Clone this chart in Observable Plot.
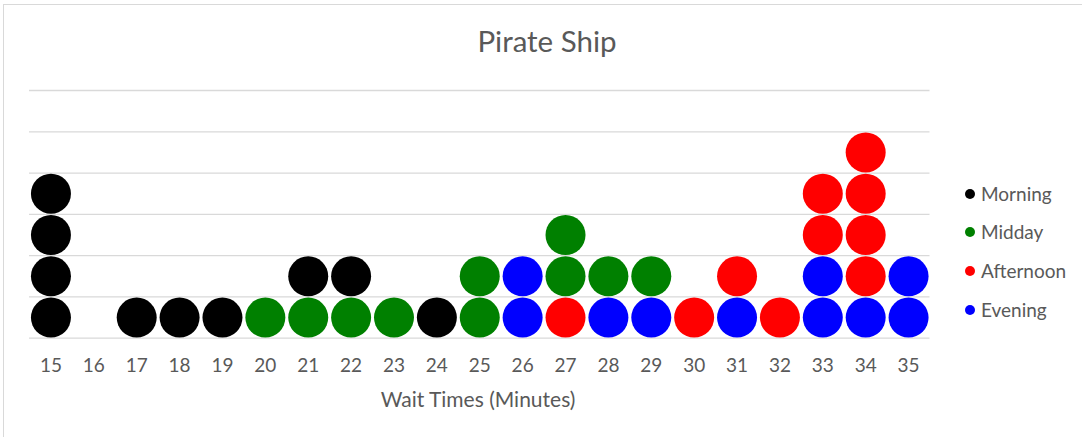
<!DOCTYPE html>
<html>
<head>
<meta charset="utf-8">
<script src="https://cdn.jsdelivr.net/npm/d3@7"></script>
<script src="https://cdn.jsdelivr.net/npm/@observablehq/plot@0.6"></script>
<style>
  html, body { margin: 0; padding: 0; background: #fff; overflow: hidden; }
  #wrap { position: relative; width: 1082px; height: 437px; overflow: hidden; font-family: Lato, sans-serif; color: #595959; }
  #frame { position: absolute; left: 3px; top: 4px; width: 1300px; height: 700px; border: 1.5px solid #d9d9d9; box-sizing: border-box; }
  #chart { position: absolute; left: 0; top: 0; }
  .txt { position: absolute; line-height: 1; white-space: nowrap; }
  #title { font-size: 29.5px; left: 547px; top: 26px; transform: translateX(-50%); }
  #xlabel { font-size: 21px; left: 478px; top: 387.5px; transform: translateX(-50%); }
  .leg { position: absolute; left: 981px; font-size: 19px; line-height: 1; white-space: nowrap; }
  .sw { position: absolute; width: 10px; height: 10px; border-radius: 50%; left: 965px; }
</style>
</head>
<body>
<div id="wrap">
  <div id="frame"></div>
  <div id="chart"></div>
  <div class="txt" id="title"></div>
  <div class="txt" id="xlabel"></div>
  <div id="legend"></div>
</div>
<script>
// ---- Data ----
const titleText = "Pirate Ship";
const xAxisTitle = "Wait Times (Minutes)";
const minutes = [15,16,17,18,19,20,21,22,23,24,25,26,27,28,29,30,31,32,33,34,35];
const seriesNames = ["Morning", "Midday", "Afternoon", "Evening"];
const seriesColors = ["#000000", "#008000", "#ff0000", "#0000ff"];

// each dot: wait time (x) and stack level (1 = bottom)
const morningX   = [15,15,15,15,17,18,19,21,22,24];
const morningLvl = [1, 2, 3, 4, 1, 1, 1, 2, 2, 1];
const middayX    = [20,21,22,23,25,25,27,27,28,29];
const middayLvl  = [1, 1, 1, 1, 1, 2, 2, 3, 2, 2];
const afternoonX   = [27,30,31,32,33,33,34,34,34,34];
const afternoonLvl = [1, 1, 2, 1, 3, 4, 2, 3, 4, 5];
const eveningX   = [26,26,28,29,31,33,33,34,35,35];
const eveningLvl = [1, 2, 1, 1, 1, 1, 2, 1, 1, 2];
const gridLevels = [0,1,2,3,4,5,6];

// ---- Build table ----
const seriesX = [morningX, middayX, afternoonX, eveningX];
const seriesLvl = [morningLvl, middayLvl, afternoonLvl, eveningLvl];
const dots = [];
seriesNames.forEach((name, i) => {
  seriesX[i].forEach((x, j) => dots.push({minute: x, level: seriesLvl[i][j] - 0.5, period: name}));
});

const W = 1082, H = 437;
const chart = Plot.plot({
  width: W,
  height: H,
  marginLeft: 29,
  marginRight: 152.5,
  marginTop: 90,
  marginBottom: 99.3,
  style: {fontFamily: "Lato, sans-serif", fontSize: "19px", color: "#595959", background: "transparent"},
  x: {domain: [14.5, 35.5], ticks: minutes, tickFormat: d => String(d), tickSize: 0, tickPadding: 20, label: null},
  y: {domain: [0, 6], axis: null},
  color: {domain: seriesNames, range: seriesColors},
  marks: [
    Plot.ruleY(gridLevels, {stroke: "#d9d9d9", strokeWidth: 1.3}),
    Plot.dot(dots, {x: "minute", y: "level", r: 20, fill: "period", stroke: "none"})
  ]
});
document.getElementById("chart").appendChild(chart);

document.getElementById("title").textContent = titleText;
document.getElementById("xlabel").textContent = xAxisTitle;

const legendBaselines = [201, 239.3, 278.3, 317.3];
const leg = document.getElementById("legend");
seriesNames.forEach((name, i) => {
  const sw = document.createElement("div");
  sw.className = "sw";
  sw.style.background = seriesColors[i];
  sw.style.top = (legendBaselines[i] - 7 - 5) + "px";
  leg.appendChild(sw);
  const t = document.createElement("div");
  t.className = "leg";
  t.textContent = name;
  t.style.top = (legendBaselines[i] - 0.887 * 19) + "px";
  leg.appendChild(t);
});
</script>
</body>
</html>
